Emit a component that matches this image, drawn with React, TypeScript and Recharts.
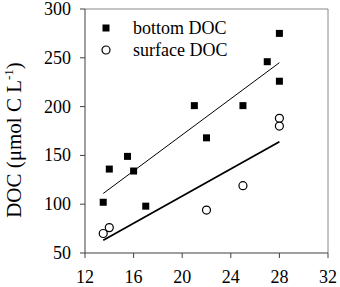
import { ScatterChart, Scatter, XAxis, YAxis, ReferenceLine } from 'recharts'

const bottomTemp = [13.5, 14, 15.5, 16, 17, 21, 22, 25, 27, 28, 28]
const bottomDoc = [102, 136, 149, 134, 98, 201, 168, 201, 246, 275, 226]
const surfaceTemp = [13.5, 14, 22, 25, 28, 28]
const surfaceDoc = [70, 76, 94, 119, 188, 180]

// fitted lines, end points
const bottomFitTemp = [13.5, 28]
const bottomFitDoc = [111, 245]
const surfaceFitTemp = [13.5, 28]
const surfaceFitDoc = [63, 164]

const xTicks = [12, 16, 20, 24, 28, 32]
const yTicks = [50, 100, 150, 200, 250, 300]

const FONT = "'Liberation Serif', 'Times New Roman', Times, serif"

const toPoints = (xs: number[], ys: number[]) => xs.map((t, i) => ({ t, doc: ys[i] }))

const bottom = toPoints(bottomTemp, bottomDoc)
const surface = toPoints(surfaceTemp, surfaceDoc)
const bottomFit = toPoints(bottomFitTemp, bottomFitDoc)
const surfaceFit = toPoints(surfaceFitTemp, surfaceFitDoc)

function Square({ cx, cy }: any) {
  return <rect x={cx - 3.5} y={cy - 3.5} width={7} height={7} fill="#000" />
}

function Ring({ cx, cy }: any) {
  return <circle cx={cx} cy={cy} r={4} fill="#fff" stroke="#000" strokeWidth={1.2} />
}

const NoDot = () => <g />

function XTick({ x, y, payload }: any) {
  return (
    <text x={x} y={y} dy={13} textAnchor="middle" fill="#000" style={{ fontFamily: FONT, fontSize: 18 }}>
      {payload.value}
    </text>
  )
}

function YTick({ x, y, payload }: any) {
  return (
    <text x={x} y={y} dy={6} textAnchor="end" fill="#000" style={{ fontFamily: FONT, fontSize: 18 }}>
      {payload.value}
    </text>
  )
}

function YLabel() {
  return (
    <text transform="translate(21,140) rotate(-90)" textAnchor="middle" fill="#000" style={{ fontFamily: FONT, fontSize: 21 }}>
      DOC (μmol C L
      <tspan dy={-8} fontSize={13}>-1</tspan>
      <tspan dy={8}>)</tspan>
    </text>
  )
}

function LegendBox() {
  const row = { display: 'flex', alignItems: 'center', height: 22 }
  const label = { marginLeft: 21, fontSize: 18, fontFamily: FONT, color: '#000', lineHeight: '22px' }
  return (
    <div style={{ position: 'absolute', top: 17, left: 100 }}>
      <div style={row}>
        <svg width={12} height={12}><rect x={2.5} y={2.5} width={7} height={7} fill="#000" /></svg>
        <span style={label}>bottom DOC</span>
      </div>
      <div style={row}>
        <svg width={12} height={12}><circle cx={6} cy={6} r={4} fill="#fff" stroke="#000" strokeWidth={1.2} /></svg>
        <span style={label}>surface DOC</span>
      </div>
    </div>
  )
}

export default function App() {
  return (
    <div style={{ position: 'absolute', left: 0, top: 0, width: 340, height: 287, background: '#fff', fontFamily: FONT }}>
      <style>{`svg text { font-family: ${FONT}; }`}</style>
      <ScatterChart width={340} height={287} margin={{ top: 9, right: 12, bottom: 0, left: 0 }}>
        <XAxis
          type="number"
          dataKey="t"
          domain={[12, 32]}
          ticks={xTicks}
          height={34}
          tickSize={5}
          tickMargin={12}
          stroke="#404040"
          tick={(p: any) => <XTick {...p} />}
          allowDataOverflow
        />
        <YAxis
          type="number"
          dataKey="doc"
          domain={[50, 300]}
          ticks={yTicks}
          width={85}
          tickSize={5}
          tickMargin={9}
          stroke="#404040"
          tick={(p: any) => <YTick {...p} />}
          label={<YLabel />}
          allowDataOverflow
        />
        <ReferenceLine y={300} stroke="#888" />
        <ReferenceLine x={32} stroke="#888" />
        <Scatter data={bottomFit} line={{ stroke: '#000', strokeWidth: 1 }} shape={NoDot} legendType="none" isAnimationActive={false} />
        <Scatter data={surfaceFit} line={{ stroke: '#000', strokeWidth: 1.8 }} shape={NoDot} legendType="none" isAnimationActive={false} />
        <Scatter name="bottom DOC" data={bottom} shape={Square} isAnimationActive={false} />
        <Scatter name="surface DOC" data={surface} shape={Ring} isAnimationActive={false} />
      </ScatterChart>
      <LegendBox />
    </div>
  )
}
